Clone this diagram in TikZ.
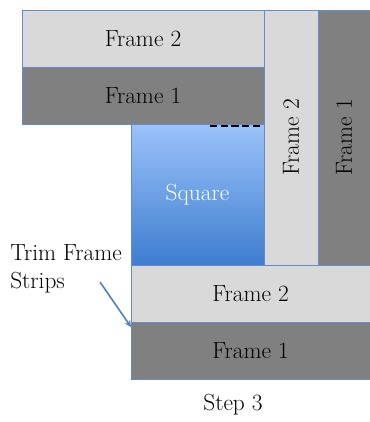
\documentclass[tikz,border=0pt]{standalone}
\usepackage{tikz}

\definecolor{lightgrey}{RGB}{217,217,217}
\definecolor{darkgrey}{RGB}{128,128,128}
\definecolor{edgeblue}{RGB}{100,140,205}
\definecolor{sqtop}{RGB}{155,194,250}
\definecolor{sqbot}{RGB}{62,125,208}
\definecolor{arrowblue}{RGB}{79,129,189}

\begin{document}
\begin{tikzpicture}[x=0.75pt, y=-0.75pt, font=\fontsize{17.5}{21}\selectfont,
    light/.style={fill=lightgrey, draw=edgeblue, line width=0.6pt},
    dark/.style={fill=darkgrey, draw=edgeblue, line width=0.6pt}]
    \useasboundingbox (0,0) rectangle (370,422);

    % top strips
    \draw[light] (22,10) rectangle (264,67) node[midway] (f2top) {Frame 2};
    \draw[dark] (22,67) rectangle (264,124) node[midway] (f1top) {Frame 1};

    % side strips
    \draw[light] (264,10) rectangle (318,265) node[midway, rotate=90] (f2side) {Frame 2};
    \draw[dark] (318,10) rectangle (370,265) node[midway, rotate=90] (f1side) {Frame 1};

    % square
    \shade[top color=sqtop, bottom color=sqbot, draw=edgeblue, line width=0.6pt]
        (131,124) rectangle (264,265) node[midway, text=white] (sq) {Square};
    \draw[line width=1.5pt, dash pattern=on 5.5pt off 2.5pt] (210,125.5) -- (263,125.5);

    % bottom strips
    \draw[light] (131,265) rectangle (370,322) node[midway] (f2bot) {Frame 2};
    \draw[dark] (131,322) rectangle (370,379) node[midway] (f1bot) {Frame 1};

    \node[align=left, anchor=north west, inner sep=0pt] (trim) at (10,244) {Trim Frame\\Strips};
    \coordinate (tail) at (100,282);
    \coordinate (tip) at (131,327);
    \draw[->, >=stealth, arrowblue, line width=1.2pt] (tail) -- (tip);

    \node[anchor=base] (step3) at (233,410) {Step 3};
\end{tikzpicture}
\end{document}
